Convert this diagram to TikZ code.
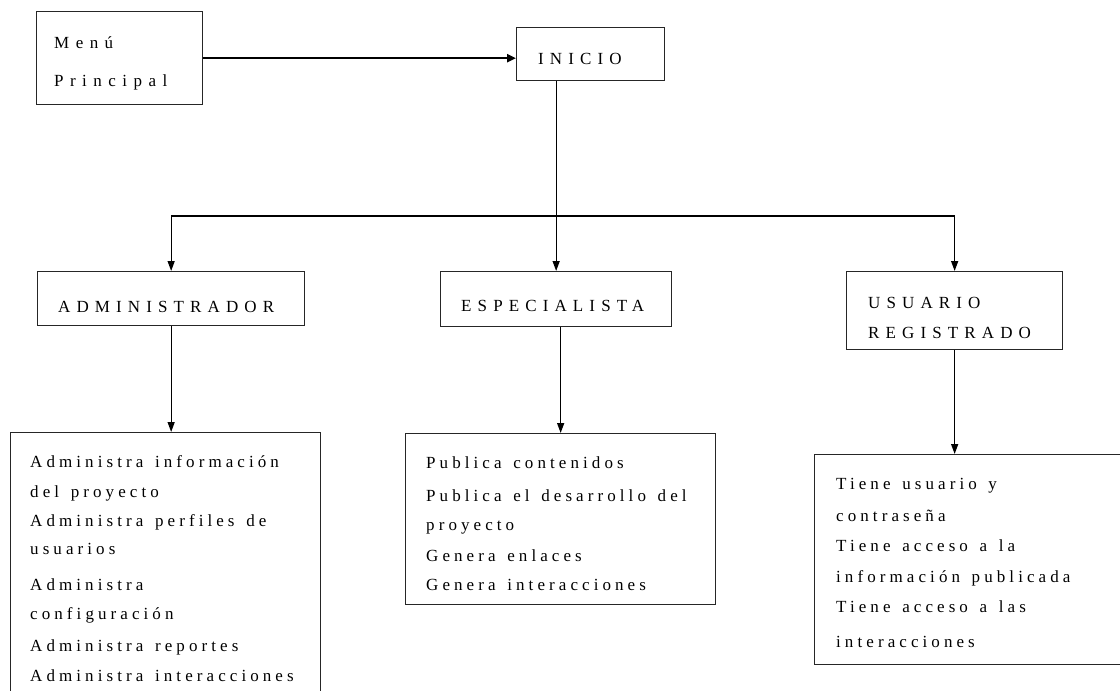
\documentclass[tikz,border=0pt]{standalone}
\usepackage{fontspec}
\setmainfont{Liberation Serif}
\newfontfamily\lowfont[LetterSpace=24,WordSpace=1.4]{Liberation Serif}
\newfontfamily\menufont[LetterSpace=38]{Liberation Serif}
\newfontfamily\capfont[LetterSpace=36]{Liberation Serif}
\usetikzlibrary{arrows.meta}
\begin{document}
\begin{tikzpicture}[x=1pt,y=-1pt,
  box/.style={draw=black!85, line width=1.3pt, rectangle, inner sep=0pt, anchor=north west},
  lbl/.style={anchor=base west, inner sep=0pt, font=\lowfont\fontsize{17}{20}\selectfont},
  menulbl/.style={anchor=base west, inner sep=0pt, font=\menufont\fontsize{17}{20}\selectfont},
  caplbl/.style={anchor=base west, inner sep=0pt, font=\capfont\fontsize{17}{20}\selectfont},
  conn/.style={line width=1.3pt, -{Triangle[length=10pt,width=7pt]}},
  mainconn/.style={line width=2.6pt, -{Triangle[length=9pt,width=8pt]}}]
\useasboundingbox (0,0) rectangle (1120,691);

% boxes
\node[box, minimum width=166pt, minimum height=93pt] (menu) at (36,11) {};
\node[box, minimum width=148pt, minimum height=53pt] (inicio) at (516,27) {};
\node[box, minimum width=267pt, minimum height=54pt] (admin) at (37,271) {};
\node[box, minimum width=231pt, minimum height=55pt] (esp) at (440,271) {};
\node[box, minimum width=216pt, minimum height=78pt] (usu) at (846,271) {};
\node[box, minimum width=310pt, minimum height=280pt] (adlist) at (10,432) {};
\node[box, minimum width=310pt, minimum height=171pt] (esplist) at (405,433) {};
\node[box, minimum width=312pt, minimum height=210pt] (usulist) at (814,454) {};

% box labels
\node[menulbl] (m1) at (54,48) {Menú};
\node[menulbl] (m2) at (54,86) {Principal};
\node[caplbl] (ini) at (538,64) {INICIO};
\node[caplbl] (adm) at (58,312) {ADMINISTRADOR};
\node[caplbl] (espl) at (461,311) {ESPECIALISTA};
\node[caplbl] (u1) at (868,308) {USUARIO};
\node[caplbl] (u2) at (868,338) {REGISTRADO};

\foreach \txt/\yy [count=\i] in {Administra información/467, del proyecto/497,
    Administra perfiles de/526, usuarios/554, Administra/590,
    configuración/619, Administra reportes/651, Administra interacciones/681}
  \node[lbl] (ad\i) at (30,\yy) {\txt};

\foreach \txt/\yy [count=\i] in {Publica contenidos/468, Publica el desarrollo del/501,
    proyecto/530, Genera enlaces/561, Genera interacciones/590}
  \node[lbl] (es\i) at (426,\yy) {\txt};

\foreach \txt/\yy [count=\i] in {Tiene usuario y/489, contraseña/521,
    Tiene acceso a la/551, información publicada/582,
    Tiene acceso a las/612, interacciones/647}
  \node[lbl] (us\i) at (836,\yy) {\txt};

% connectors
\coordinate (bus) at (556,216);
\draw[mainconn] (menu.east) -- (menu.east -| inicio.west);
\draw[conn] (esp.north |- inicio.south) -- (esp.north);
\draw[line width=1.3pt] (admin.north |- bus) -- (usu.north |- bus);
\draw[conn] (admin.north |- bus) -- (admin.north);
\draw[conn] (usu.north |- bus) -- (usu.north);
\draw[conn] (admin.south) -- (admin.south |- adlist.north);
\draw[conn] (esplist.north |- esp.south) -- (esplist.north);
\draw[conn] (usu.south) -- (usu.south |- usulist.north);
\end{tikzpicture}
\end{document}
